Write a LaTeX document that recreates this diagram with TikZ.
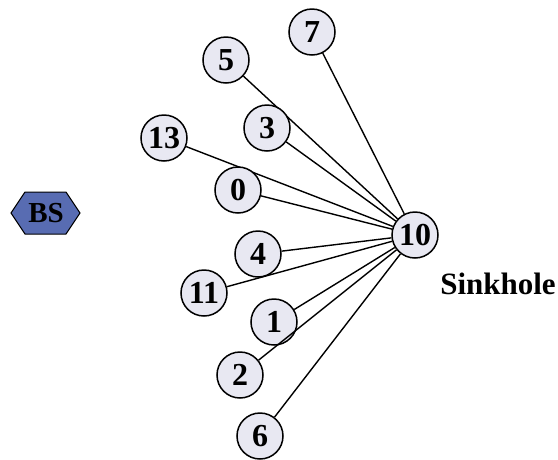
\documentclass[tikz,border=0pt]{standalone}
\usepackage{fontspec}
\setmainfont{Liberation Serif}
\definecolor{nodefill}{RGB}{232,232,242}
\definecolor{bsfill}{RGB}{88,108,178}
\tikzset{
  sensor/.style={circle,draw,line width=1.5pt,fill=nodefill,minimum size=46pt,inner sep=0pt,font=\fontsize{32}{32}\selectfont\bfseries},
  link/.style={line width=1.4pt},
  label text/.style={font=\fontsize{31}{31}\selectfont\bfseries,inner sep=0pt}
}
\begin{document}
\begin{tikzpicture}[x=1pt,y=-1pt]
\useasboundingbox (0,0) rectangle (558,459);
% base station: flat hexagon with its label
\fill[bsfill,draw=black,line width=1pt] (11,213) -- (25,192) -- (66,192) -- (80,213) -- (66,234) -- (25,234) -- cycle;
\node[label text,font=\fontsize{29}{29}\selectfont\bfseries] (bs) at (46,213) {BS};
% sink node
\node[sensor] (n10) at (415,235) {10};
\node[label text] (sink) at (498,284) {Sinkhole};
% neighbours, each linked to the sink
\foreach \id/\px/\py in {7/312/32, 5/226/60, 3/267/128, 13/164/138, 0/238/190, 4/258/254, 11/204/293, 1/274/322, 2/240/375, 6/260/436} {
  \node[sensor] (n\id) at (\px,\py) {\id};
  \draw[link] (n\id) -- (n10);
}
\end{tikzpicture}
\end{document}
